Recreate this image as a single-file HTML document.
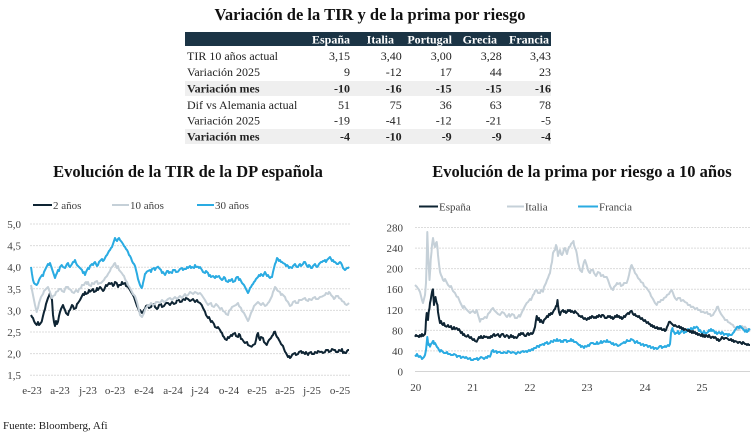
<!DOCTYPE html>
<html><head><meta charset="utf-8"><style>
html,body{margin:0;padding:0;background:#fff;}
svg{display:block;}
text{font-family:"Liberation Serif","DejaVu Serif",serif;}
</style></head><body>
<svg width="755" height="438" viewBox="0 0 755 438" xmlns="http://www.w3.org/2000/svg">
<rect width="755" height="438" fill="#fff"/>
<text x="370" y="20" text-anchor="middle" font-size="16.5" font-weight="bold" fill="#111">Variación de la TIR y de la prima por riesgo</text>
<rect x="185" y="32" width="366" height="14" fill="#1b3445"/>
<g font-size="12" font-weight="bold" fill="#fff" text-anchor="end">
<text x="350" y="43.5">España</text>
<text x="394" y="43.5">Italia</text>
<text x="452" y="43.5">Portugal</text>
<text x="497" y="43.5">Grecia</text>
<text x="549" y="43.5">Francia</text>
</g>
<rect x="185" y="81" width="366" height="15" fill="#efefef"/>
<rect x="185" y="129" width="366" height="15" fill="#efefef"/>
<g font-size="12" fill="#222">
<text x="187" y="60">TIR 10 años actual</text>
<text x="187" y="76">Variación 2025</text>
<text x="187" y="92.5" font-weight="bold">Variación mes</text>
<text x="187" y="109">Dif vs Alemania actual</text>
<text x="187" y="124.5">Variación 2025</text>
<text x="187" y="140.5" font-weight="bold">Variación mes</text>
</g>
<g font-size="12" fill="#222" text-anchor="end">
<text x="350" y="60">3,15</text><text x="401.7" y="60">3,40</text><text x="451.7" y="60">3,00</text><text x="501.7" y="60">3,28</text><text x="551" y="60">3,43</text>
<text x="350" y="76">9</text><text x="401.7" y="76">-12</text><text x="451.7" y="76">17</text><text x="501.7" y="76">44</text><text x="551" y="76">23</text>
<g font-weight="bold"><text x="350" y="92.5">-10</text><text x="401.7" y="92.5">-16</text><text x="451.7" y="92.5">-15</text><text x="501.7" y="92.5">-15</text><text x="551" y="92.5">-16</text></g>
<text x="350" y="109">51</text><text x="401.7" y="109">75</text><text x="451.7" y="109">36</text><text x="501.7" y="109">63</text><text x="551" y="109">78</text>
<text x="350" y="124.5">-19</text><text x="401.7" y="124.5">-41</text><text x="451.7" y="124.5">-12</text><text x="501.7" y="124.5">-21</text><text x="551" y="124.5">-5</text>
<g font-weight="bold"><text x="350" y="140.5">-4</text><text x="401.7" y="140.5">-10</text><text x="451.7" y="140.5">-9</text><text x="501.7" y="140.5">-9</text><text x="551" y="140.5">-4</text></g>
</g>

<text x="188" y="177" text-anchor="middle" font-size="16.5" font-weight="bold" fill="#111">Evolución de la TIR de la DP española</text>
<text x="582" y="177" text-anchor="middle" font-size="16.5" font-weight="bold" fill="#111">Evolución de la prima por riesgo a 10 años</text>

<g font-size="11" fill="#404040">
<line x1="33" y1="205" x2="52" y2="205" stroke="#0e2433" stroke-width="2"/>
<text x="53" y="209">2 años</text>
<line x1="112" y1="205" x2="129" y2="205" stroke="#c5d0d8" stroke-width="2"/>
<text x="130" y="209">10 años</text>
<line x1="197" y1="205" x2="214" y2="205" stroke="#2aabe2" stroke-width="2"/>
<text x="215" y="209">30 años</text>
</g>
<g font-size="11" fill="#404040">
<line x1="419" y1="206.5" x2="438" y2="206.5" stroke="#0e2433" stroke-width="2"/>
<text x="439" y="210.5">España</text>
<line x1="507" y1="206.5" x2="524" y2="206.5" stroke="#c5d0d8" stroke-width="2"/>
<text x="525" y="210.5">Italia</text>
<line x1="578" y1="206.5" x2="598" y2="206.5" stroke="#2aabe2" stroke-width="2"/>
<text x="599" y="210.5">Francia</text>
</g>

<g stroke="#dcdcdc" stroke-width="1" stroke-dasharray="2,1">
<line x1="30" y1="224" x2="350" y2="224"/>
<line x1="30" y1="245.6" x2="350" y2="245.6"/>
<line x1="30" y1="267.2" x2="350" y2="267.2"/>
<line x1="30" y1="288.8" x2="350" y2="288.8"/>
<line x1="30" y1="310.4" x2="350" y2="310.4"/>
<line x1="30" y1="332" x2="350" y2="332"/>
<line x1="30" y1="353.6" x2="350" y2="353.6"/>
<line x1="30" y1="375.2" x2="350" y2="375.2"/>
</g>
<g font-size="11" fill="#404040" text-anchor="end">
<text x="21" y="228">5,0</text>
<text x="21" y="249.6">4,5</text>
<text x="21" y="271.2">4,0</text>
<text x="21" y="292.8">3,5</text>
<text x="21" y="314.4">3,0</text>
<text x="21" y="336">2,5</text>
<text x="21" y="357.6">2,0</text>
<text x="21" y="379.2">1,5</text>
</g>
<g font-size="11" fill="#404040" text-anchor="middle">
<text x="32" y="394">e-23</text>
<text x="60" y="394">a-23</text>
<text x="88" y="394">j-23</text>
<text x="115" y="394">o-23</text>
<text x="144" y="394">e-24</text>
<text x="173" y="394">a-24</text>
<text x="200" y="394">j-24</text>
<text x="229" y="394">o-24</text>
<text x="257" y="394">e-25</text>
<text x="285" y="394">a-25</text>
<text x="312" y="394">j-25</text>
<text x="340" y="394">o-25</text>
</g>

<g fill="none" stroke-width="2" stroke-linejoin="round">
<polyline stroke="#0e2433" points="31,315 32,317 33,318 34,321 35,323 36.7,325 38,322 39,325 40,324 41.7,321.7 43,316 44,312 45,309 46,304 47,301 48,298 49,296 50,293 51,296 52,300 53,315 54,322 55,326 56,321 57,324 58,321.7 59,316 60,312 61,309 63,305 64,308 65,310 66,313 68,315 69,311 70,310 72,305 73,306 74,309 76,308 77,304 78,303 80,300 81,298 82,296 83,294 84,295 85,292 86,294 88,293 89,290 90,291.7 92,290 93,289 94,292 96,291 97,288 98,290 100,287 101,288 103,291 104,290 106,285 107,286 109,283 110,284 111.7,283 113,286 114,285 115,282 116.7,283 118,287 119,285 121,285 122,282 123,284 125,283 126,286 128,287 130,290 131.7,293 133,295 134,297 135,300 136,303 137,306 138,308 139,311 140,310 142,313 143,312 144,310 145,309 146,306 148,305 149,308 151,307 152,305 154,304 155,307 157,309 158,308 159,305 161,304 162,307 164,306 166,303 168,303 170,305 172,302 174,304 176,303 177,300 179,300 180,302 181.7,301.7 183,299 185,300 186,298 188,299 190,301 191.7,300 193,299 195,302 197,300 198,302 200,303 201.7,305 203,308 205,311.7 206,315 208,318 209,317 211,322 212,321 214,324 215,327 217,328 218,327 220,330 221,332 222,333 223,336 224,337 225,339 226.7,340 228,337 229,338 231,335 232,336 233,334 235,333 236,336 238,337 239,334 240,335 241,339 242,339 244,342 245,343 247,342 248,345 250,346 251.7,346.7 253,345 255,344 256,340 257,335 258,333 259,338 260,340 261,337 263,338 264,342 265,343 266.7,345 268,341.7 269,340 271,338 272,336 273,335 274,332 275,331.7 276,335 277,337 278,338 279,340 280,341.7 281,344 283,346 284,349 285,351.7 286,353 287,355 288,357 289,356 290,358 291,357 292,355 293,354 295,353 296,355 298,354 299,352 301,351 302,353 303,352 305,354 306,352 308,355 309,353 311,352 312,354 314,354 315,352 317,353 318,351 320,352 321.7,351.7 323,353 325,352 326,350 328,350 329,352 331,351 332,349 334,350 335,350 336,352 338,352 339,350 341,351 342,349 343,353 344,352 345,353 346,353 347,351 348,350 349,350"/>
<polyline stroke="#c5d0d8" points="31,285 32,290 33,295 34,300 35,305 36.7,312 37.5,309 38,308 39,303 40,300 41,297 43,294 44,291 46,289 47,288 48,287 49,290 50,292 51,296 52,298 53,296 55,295 56,292 58,291 59,289 61,289 62,291 64,292 65,289 66,287 68,287 69,289 71,290 72,292 74,293 76,290 78,292 79,289 81,288 82,285 84,285 85,283 86,282 87,284 88,282 89,285 91,286 92,283 94,284 95,282 97,281 98,284 100,283 101,283 103,281 104,280 105,278 107,276 108,274 110,271 111,268 112,267 113,266 114,264 115,263 116,266 117,268 118,266 119,270 120,271 121.7,273 123,275 124,276 125,279 126,281 127,282 128,285 130,288 131,290 132,292 133,294 134,295 135,296 136,299 137,302 138,306 139,310 140,315 141,316 142,317 143,315 144,313 145,310 146,308 148,305 149,306 151,303 153,305 155,304 156,302 158,302 160,303 162,300 164,302 166,301 168,299 170,298 172,300 175,297 177,299 180,296 182,298 185,294 186,296 188,295 190,292 191.7,293 193,294 195,292 197,293 198,294 200,293 201.7,295 203,297 205,300 206,302 208,305 209,304 211,303 212,306 214,307 216,304 218,306 220,309 221.7,308 223,311 225,312 226,314 228,315 229,311 231,309 232,307 234,306 236,305 238,303 239,306 241,308 242,311 244,313 245,315 246,317 247,319 248,321 249,319 250,316 251,313 253,309 254,306 256,304 257,303 258,302 260,304 261,305 262,304 263,303 265,306 266.7,305 268,303 269,302 270,300 271,298 272,296 273,292 274,290 275,287 276,288 277,290 278,291 280,292 281,295 282,294 284,296 285,297 286,300 288,302 289,304 290,306 291.7,305 293,302 295,301 296,303 298,303 299,300 301.7,300 303,299 305,298 306,300 308,301 309,299 311.7,300 313,298 315,297 316,299 318,299 320,297 321.7,296.7 323,296 325,295 326,293 328,294 329,292 330,293 331,295 333,297 334,299 335,298 336,296 338,296 339,298 341,299 342,301 344,302 345,304 346.7,305 348,304 349,303"/>
<polyline stroke="#2aabe2" points="31,267 32,274 33,280 34,283 35,284 36.7,285 38,283 39,280 40,278 42,275 43,276 44,272 45,270 46,268 47,266 48,264 49,265 50,263 51,266 52,269 53,272 54,275 55,278 56,275 57,273 58,270 59,271 60,267 61.7,265 63,267 65,268 66,266 67,264 68,263 69,266 70,267 72,264 73,262 74,262 75,260 76,263 77,265 78,266 80,268 82,270 83,273 84,272 85,275 86,272 87,270 88,268 89,269 90,266 92,264 93,265 94,263 95,262 96,264 97,266 98,265 99,262 100,261 102,259 103,261 104,260 105,258 106,256 107,255 108,253 109,251 110,250 111,248 112,247 113,244 114,241 115,238 116,240 117,241 118,239 119,238 120,240 121.7,242 123,244 124,246 125,247 126,249 127,250 128,252 129,255 130,256 131,258 132,261 133,263 134,264 135,266 136,270 137,274 138,279 139,282 140,285 141,287 141.7,288 142.5,286 143,283 144,279 145,274 146,273 146.7,271.7 148,271 150,270 151,272 152,269 154,268 155,270 156,268 158,266.7 159,268 160,269 161,270 162,273 163,272 165,275 166,273 167,271 168,271 169,273 170,272 172,273 173,270 175,270 176,272 178,271.7 180,269 182,268 183,270 184,269 186,269 187,267 188,268 190,266 191,268 192,267 194,268 195,265 196,267 198,266.7 199,268 200,267 202,270 203,272 205,273 206,271 208,273 209,276 210,275 211,277 213,276 215,278 216,276 217,277 219,276 220,278 222,280 223,279 224,277 225,278 226,281 228,282 229,280 230,281 232,279 233,282 235,281 236,278 237,277 238,277 239,280 240,279 241,281 242,283 243,284 244,285 245,287 246,289 247,291 248,293 249,291 250,288 251,287 252,285 253,284 254,282 255,281 256,279 257,278 258,277 259,275 260,276 261,274 262,275 263,276 264,274 265,272 266,274 267,276 268,275 269,277 270,278 271,277 272,277 273,272 274,268 275,264 276,262 277,258 278,259 279,261 280,260 281,262 282,262 283,263 285,264 286,266 287,265 288,266 289,268 290,267 292,268 293,266 294,265 295,264 296,266 297,267 298,267 299,265 300,264 301,266 302,265 303,264 304,262 305,262 306,264 307,266 308,267 309,265 310,266 311,268 312,268 313,266 314,265 315,264 316,266 317,267 318,266 319,264 320,263 321,262 322,262 323,261 324,261 325,260 326,262 327,260 328,259 329,258 330,257 331,259 332,261 333,260 334,262 335,262 336,263 337,264 338,264 339,263 340,262 341,263 342,265 343,268 344,269 345,270 346,269 347,268 348,268 349,267"/>
</g>

<g stroke="#dcdcdc" stroke-width="1" stroke-dasharray="2,1">
<line x1="415" y1="227.5" x2="750" y2="227.5"/>
<line x1="415" y1="248.1" x2="750" y2="248.1"/>
<line x1="415" y1="268.6" x2="750" y2="268.6"/>
<line x1="415" y1="289.2" x2="750" y2="289.2"/>
<line x1="415" y1="309.8" x2="750" y2="309.8"/>
<line x1="415" y1="330.4" x2="750" y2="330.4"/>
<line x1="415" y1="350.9" x2="750" y2="350.9"/>
</g>
<line x1="415" y1="371.5" x2="750" y2="371.5" stroke="#d4d4d4" stroke-width="1"/>
<g font-size="11" fill="#404040" text-anchor="end">
<text x="403" y="231.5">280</text>
<text x="403" y="252.1">240</text>
<text x="403" y="272.6">200</text>
<text x="403" y="293.2">160</text>
<text x="403" y="313.8">120</text>
<text x="403" y="334.4">80</text>
<text x="403" y="354.9">40</text>
<text x="403" y="375.5">0</text>
</g>
<g font-size="11" fill="#404040" text-anchor="middle">
<text x="415.7" y="391">20</text>
<text x="472.7" y="391">21</text>
<text x="530" y="391">22</text>
<text x="587" y="391">23</text>
<text x="645" y="391">24</text>
<text x="702" y="391">25</text>
</g>

<g fill="none" stroke-width="2" stroke-linejoin="round">
<polyline stroke="#c5d0d8" points="415,285 417,287 419,290 420,292 421,296 422,300 423,303 424,299 425,295 426,283 426.7,260 427.3,232 428,250 428.5,262 429.5,280 430.2,270 430.7,260 431.5,252 432,245 433,238 434,244 435,247 436,243 436.7,242 437.5,248 438,255 439,264 440,272 441,275 442,277 443,280 444,281 445,279 447,283 448,285 450,287 451,286 453,291 455,293 456.7,296.7 458,297 460,302 461,304 463,308 464,306 466,309 468,311 470,313 471,312 473,311 475,313 476.7,310 478,315 479,318 480,321.7 481,319 483,319 485,317 486.7,318 488,314 490,312 491,310 493,308 494,310 496,312 498,314 500,315 502,312 504,313 506,316 507,317 509,314 510,316.7 512,314 514,315 515,318 517,318 519,315 520,316.7 522,312 523,310 525,306 526.7,303 528,302 530,299 531,300 533,295 534,294 535,291 536.7,290 538,293 540,293 541,290 543,291.7 544,287 546,283 547,280 548,278 549,275 550,273 551,266 552,262 553,253 554,251 555,250 556,245 556.7,246.7 557.5,252 558,256 559,252 560,250 561,254 562,255 563,253 564,249 565,248 566,251 567,254 568,250 569,247 570,246.7 571,244 572,243 573,242 573.5,241 574,245 575,248 576,250 576.7,253 577.5,258 578,262 579,266 580,270 581,271 582,272 583,266 584,262 585,260 586,263 587,266 588,270 589,272 590,273 591,270 593,270 594,273 596,276 597,274 598,272 600,273 601,276 603,275 604,277 606.7,277 608,280 609,283 610,286 611,288 612,289 613,290 614,287 616,285 617,283 618,284 620,283 621,286 623,285 624,283 626.7,283 628,279 629,275 630,270 631,266 631.7,265 632.5,267 634,270 635,273 636.7,275 638,278 640,280 641,282 643,283 644,286 646.7,288 648,290 650,293 651,296 653,299 654,301 655,303 656.7,305 658,302 660,302 661,300 663,300 664,298 666,297 667,295 669,294 670,292 671.7,290 673,293 674,296 675,298 676.7,300 678,298 680,298 681,301 683,300 685,302 687,303 688,305 690,305 691,307 693,306.7 695,309 697,308 698,310 700,310 701,312 703,311.7 705,313 707,312 708,314 710,314 711,316 713,315 714,313 716,310 717,307 718,306.7 719,310 720,312 721,314 723,316.7 724,318 725,320 727,320 728,322 730,323 731,324 733,325 734,327 736,328 737,329 738,330 739,329 741,328 742,326 743,327 744,328 745,326.7 746,328 747,330 748,329 749,331 750,330"/>
<polyline stroke="#2aabe2" points="415,355 416,356 417,354 418,356 419,357 420,356 421,357 422,359 423,358 424,357 425,355 426,350 426.5,345 427.3,337 428,342 428.5,345 429,344 430,346.7 431,344 432,343 433,341 433.5,341 434,344 435,343 436,345 437,347 438,348 439,350 440,351.7 441,350 443,352 444,353 446,353 447,352 448,354 450,354 451,355 453,355 454,354 456,355 457,357 458,356 460,356 461,358 463,356.7 465,358 466,357 468,359 470,358 471,360 473,360 474,359 476,359 477,358 478,360 480,358 481,357 483,358 484,359 486,357 487,358 488,356 490,356.7 491,354 491.5,352 492,351 493,350 494,352 496,351 497,353 498,352 500,352 501,353 503,353 504,352 506,353 507,353 508,351 510,352 511,353 513,352 515,353 516,354 518,352 520,353 521,352 523,351 524,352 526,351 527,352 529,350 530,351 532,349 533,350 534,348 536,348 537,346 538,346 539,347 540,345 541,345 543,344 544,345 545,343 546,343 547,342 548,344 550,343 551,341 553,342 554,340 556,341 557,339 558,341 560,340 561,342 562,341 563,342 564,340 566,340 567,342 568,341 570,341 571,339 572,341 573,340 574,342 576,342 577,343 578,344 579,345 580,345 581,347 582,346 583,346.7 584,348 585,346 586.7,346.7 588,345 589,346 590,344 591,343 593,343 594,344 596,344 597,342 598,344 600,343 601,341 602,343 603,342 604,341 606,342 607,340 608,342 610,341.7 611,343 612,344 613,343 614,345 616,344 617,345 618,346 620,345 621,344 623,343 624,342 625,343 626,342 627,340 628,341 630,341 631,339 633,340 634,341 635,343 636,342 637,341 638,343 640,343 641,345 643,344 644,346 645,345 646.7,345 648,347 649,346 650,346 651,348 653,347 654,349 655,348 656,348 657,349 658,348.3 659,347 660,346 661,346 662,348 663,347 664,347 665,346 666,347 667,346 668,345 669,346 670,344 670.5,339 671,333 671.7,330 672.5,328 673,331 674,332 675,334 676,333 677,333 678,331 679,334 680,333 681,332 682,330 683,331 684,333 685,332 686,332 687,331 688,329 689,330 690,330 691,328 692,329 693,329 694,327 695,328 696.7,326.7 698,328 699,331 700,330 701,332 702,333 703,333 704,331 705,333 706.7,333 708,332 709,330 710,331 711,329 712,331 713,330 714,331 715,333 716,332 717,334 718,333 719,332 720,333 721,334 722,332 723,333 724,335 725,334 727,334 728,336 729,334 730,335 731.7,335 733,333 734,332 735,330 736,329 737,327 738,326.7 739,328 740,326 741,327 742,328 743,329 744,330 745,331.7 746,330 747,332 748,331 749,329 750,330"/>
<polyline stroke="#0e2433" points="415,336.7 416,335 417,336 418,336 419,337 420,335 421,336.5 422,334 423,336 424,335 425,334 425.5,330 426,320 426.7,313 427.3,318 428,320 428.7,312 429.5,308 430,303 430.7,300 431.3,296 432,292 432.5,290 433,289.3 433.5,298 434,305 434.5,300 435,298 435.5,297 436,300 436.7,303 437.5,305 438,312 439,318 440,323 441,321 442,324 443,325 444,323 445,326 446.7,326.7 448,325 449,327 450,327 451,326 452,329 453,329 454,327 455,329 456.7,328 458,330 459,329 460,331 461,333 462,332 463,335 464,334 465,336 466.7,336.7 468,335 469,337 470,338 471,337 472,339 473,340 474,339 475,341 476.7,341.7 478,339 479,337 480,338 481,336 482,338 483,338 484,336 485,337 486.7,336.7 488,338 489,337 490,338 491,336 492,337 493,335 494,334 495,336 496.7,335 498,334 499,336 500,337 501,335 502,334 503,334 504,336 505,337 506.7,335 508,336 509,338 510,337 511,335 512,337 513,336 514,338 515,337 516.7,338 518,336 519,334 520,335 521,333 522,334 523,333 524,335 525,336 526,336 527,334 528,333 529,335 530,334 531,333 532,334 533,333 534,330 535,327 535.7,322 536.7,316 537.4,318 538,320 539,318 540,322 541,320 542,322 543,323 544,320 545,319 546,318 547,316 548,317 549,314 550,315 551,313 552,314 553,312 554,310 555,309 556,306 556.7,306 557.5,300 558,305 559,312 560,315 561,312 562,311 563,310 564,312 565,311 566,313 567,312 568,310 569,311 570,310 571,312 572,311 573,312 574,313 575,311 576.7,313 578,314 579,316 580,316 581,317 582,316 583,318 584,319 585,318 586.7,320 588,318 589,319 590,317 591,318 592,316 593,316.7 594,318 595,317 596,318 597,316 598,317 599,315 600,316 601,317 602,315 603,315 604,316 605,318 606.7,318 608,316 609,317 610,316 611,318 612,317 613,319 614,318 615,316 616,317 617,315 618,317 619,316 620,318 621,317 622,319 623,318 624,316 625,317 626,315 627,314 628,313 629,314 630,312 631,311 631.7,311 632.5,313 633,314 634,315 635,314 636,316 637,316 638,317 639,316 640,318 641,319 642,318 643,320 644,321 645,320 646.7,323 648,322 649,324 650,324 651,326 652,325 653,327 654,326 655,328 656,328 657,327 658,329 659,328 660,329 661,328 662,330 663,330 664,329 665,331 666,330 667,327 668,325 669,322 670,321.7 671,323 672,324 673,325 674,326 675,325 676.7,326.7 678,327 679,326 680,328 681,327 682,329 683,328 684,330 685,329 686.7,330 688,331 689,330 690,332 691,331 692,333 693,331 694,333 695,332 696,334 697,333 698,335 699,334 700,335 701,336 702,334 703,336.7 704,335 705,337 706,335 707,336 708,337 709,335 710,337 711,338 712,337 713,336.7 714,338 715,337 716,338 717,340 718,339 719,341 720,340 721,339 722,337 723,338 724,339 725,338 726.7,338 728,339 729,340 730,340 731,339 732,341 733,340 734,342 735,341 736.7,341.7 738,343 739,342 740,342 741,343 742,344 743,342 744,343 745,344 746,344 747,345 748,344 749,345 750,345"/>
</g>

<text x="3" y="429" font-size="11" fill="#222">Fuente: Bloomberg, Afi</text>
</svg>
</body></html>
